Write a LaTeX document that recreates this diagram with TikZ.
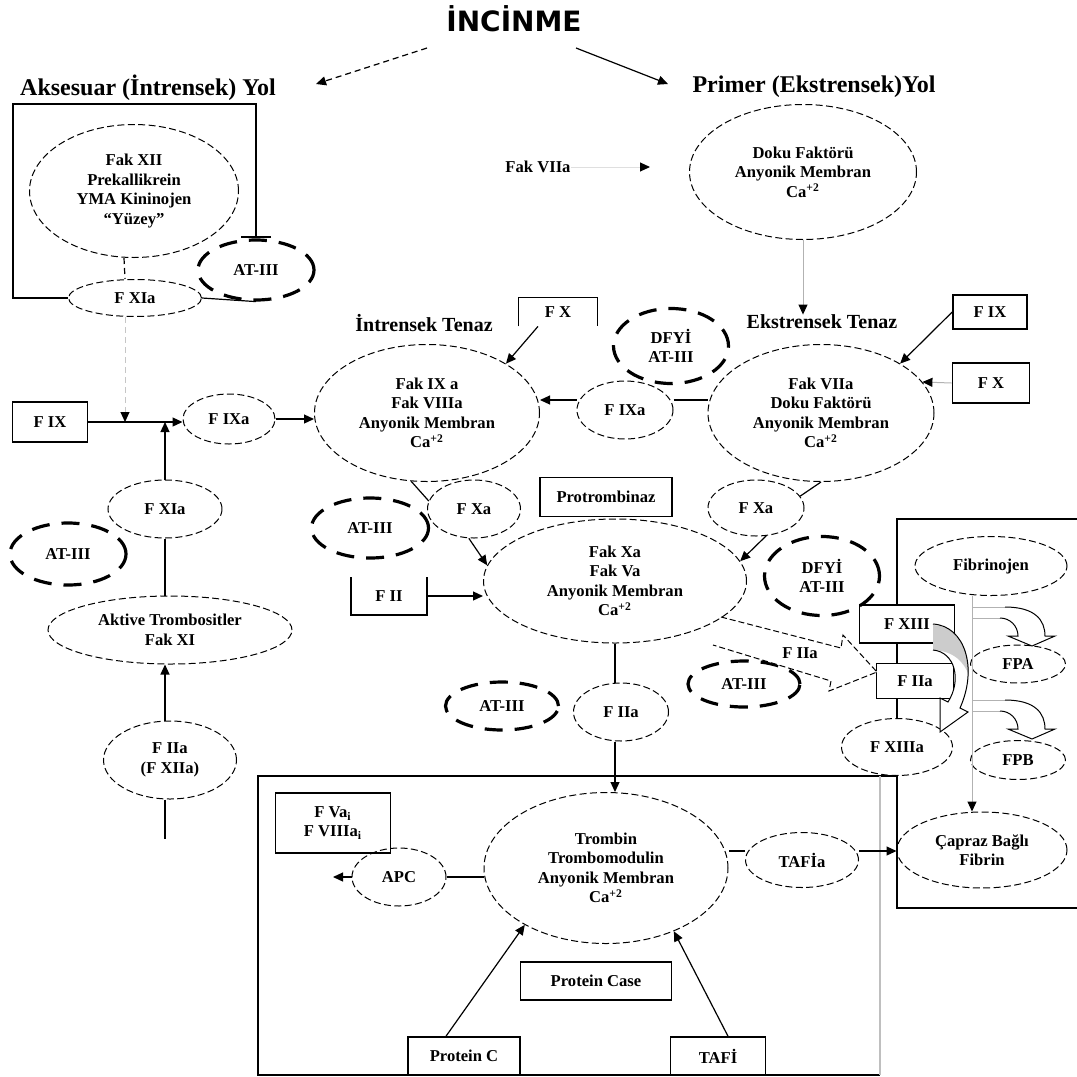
\documentclass[tikz,border=0pt]{standalone}
\usepackage{fontspec}
\setmainfont{Liberation Serif}
\newfontfamily\dvsans{DejaVu Sans}
\usetikzlibrary{arrows.meta,shapes.geometric}
\begin{document}
\begin{tikzpicture}[x=0.5pt,y=-0.5pt,
  every node/.style={font=\bfseries\fontsize{8.3}{9.7}\selectfont, align=center, inner sep=0pt},
  ell/.style 2 args={ellipse, draw, line width=0.5pt, dash pattern=on 3.5pt off 1.7pt, minimum width=#1*0.5pt, minimum height=#2*0.5pt},
  thk/.style 2 args={ellipse, draw, line width=1.6pt, dash pattern=on 9pt off 6pt, minimum width=#1*0.5pt, minimum height=#2*0.5pt},
  bx/.style 2 args={rectangle, draw, line width=0.8pt, minimum width=#1*0.5pt, minimum height=#2*0.5pt},
  obx/.style 2 args={rectangle, minimum width=#1*0.5pt, minimum height=#2*0.5pt},
  con/.style={line width=0.6pt},
  arr/.style={line width=0.6pt, -{Triangle[length=5pt,width=4.5pt]}},
  garr/.style={line width=0.5pt, gray!60, -{Triangle[length=5pt,width=4.5pt,color=black]}},
  hdr/.style={font=\bfseries\fontsize{12}{14}\selectfont},
  ten/.style={font=\bfseries\fontsize{10}{12}\selectfont},
]
\useasboundingbox (0,0) rectangle (1077,1077);

% titles
\node[font=\dvsans\bfseries\fontsize{14}{16}\selectfont] (inc) at (514,19) {İNCİNME};
\node[hdr] (aks) at (148,88) {Aksesuar (İntrensek) Yol};
\node[hdr] (prim) at (814,87) {Primer (Ekstrensek)Yol};
\coordinate (d1) at (427,48); \coordinate (d2) at (316,84);
\draw[arr, dash pattern=on 3pt off 2pt] (d1) -- (d2);
\coordinate (s1) at (576,48); \coordinate (s2) at (668,84);
\draw[arr] (s1) -- (s2);

% left pathway
\node[ell={209}{133}] (f12) at (134,191) {Fak XII\\Prekallikrein\\YMA Kininojen\\“Yüzey”};
\node[ell={133}{37}] (xia1) at (135,298) {F XIa};
\node[thk={116}{60}] (at1) at (256,270) {AT-III};
\draw[con, -{Bar[width=15pt,line width=1.2pt]}] (xia1.west) -| (13,104) -| (at1.north);
\draw[con, dash pattern=on 3pt off 2pt] ([xshift=-5pt]f12.south) -- ([xshift=-5pt]xia1.north);
\draw[con] (xia1.east) -- (at1.south);
\coordinate (j1) at (125,422);
\draw[garr, gray!45, dash pattern=on 3pt off 2pt] ([xshift=-5pt]xia1.south) -- (j1);

\node[bx={75}{40}] (fix1) at (50,422) {F IX};
\node[ell={92}{50}] (fixa1) at (229,419) {F IXa};
\draw[arr] (fix1.east) -- (fix1.east -| fixa1.west);
\node[ell={114}{58}] (xia2) at (165,509) {F XIa};
\draw[arr] (xia2.north) -- (xia2.north |- fix1.east);
\node[thk={116}{62}] (at2) at (68,554) {AT-III};
\node[ell={244}{68}] (akt) at (170,630) {Aktive Trombositler\\Fak XI};
\draw[con] (xia2.south) -- (xia2.south |- akt.north);
\node[ell={133}{78}] (f2a) at (170,760) {F IIa\\(F XIIa)};
\draw[arr] (f2a.north -| xia2.south) -- (akt.south -| xia2.south);
\coordinate (dang) at (165,839);
\draw[con] (f2a.south -| dang) -- (dang);

% tenase
\node[ten] (intt) at (424,323) {İntrensek Tenaz};
\node[ten] (ekst) at (822,322) {Ekstrensek Tenaz};
\node[obx={78}{28}] (fx1) at (558,312) {F X};
\draw[line width=0.8pt] (fx1.south west) -- (fx1.north west) -- (fx1.north east) -- (fx1.south east);
\node[ell={225}{137}] (f9) at (427,413) {Fak IX a\\Fak VIIIa\\Anyonik Membran\\Ca\textsuperscript{+2}};
\draw[arr] ([xshift=-10pt]fx1.south) -- (f9.32);
\draw[arr] (fixa1.east) -- (fixa1.east -| f9.west);
\node[thk={115}{75}] (dfy1) at (671,346) {DFYİ\\AT-III};
\node[ell={96}{58}] (fixa2) at (625,410) {F IXa};
\coordinate (p1) at ([yshift=5pt]fixa2.west);
\coordinate (p2) at ([yshift=5pt]fixa2.east);
\draw[arr] (p1) -- (p1 -| f9.east);
\node[ell={226}{137}] (f7) at (821,413) {Fak VIIa\\Doku Faktörü\\Anyonik Membran\\Ca\textsuperscript{+2}};
\draw[con] (p2) -- (p2 -| f7.west);
\node[ell={227}{135}] (doku) at (803,172) {Doku Faktörü\\Anyonik Membran\\Ca\textsuperscript{+2}};
\draw[garr] (doku.south) -- (doku.south |- ekst.north);
\node (f7t) at (538,167) {Fak VIIa};
\coordinate (f7tip) at (650,167);
\draw[garr, gray!25] (f7t.east) -- (f7tip);
\node[bx={74}{34}] (fix2) at (990,312) {F IX};
\draw[arr] (fix2.west) -- (f7.32);
\node[bx={77}{40}] (fx2) at (991,383) {F X};
\draw[garr] (fx2.west) -- (f7.17);

% prothrombinase
\node[ell={93}{58}] (xa1) at (474,509) {F Xa};
\draw[con] (f9.257) -- (xa1.170);
\node[thk={117}{60}] (at3) at (370,528) {AT-III};
\node[obx={75}{37}] (fii) at (389,596) {F II};
\draw[line width=0.8pt] (fii.north west) -- (fii.south west) -- (fii.south east) -- (fii.north east);
\node[ell={263}{124}] (fxa) at (615,581) {Fak Xa\\Fak Va\\Anyonik Membran\\Ca\textsuperscript{+2}};
\node[bx={132}{39}, fill=white] (prot) at (606,497) {Protrombinaz};
\draw[arr] (xa1.260) -- (fxa.173);
\draw[arr] (fii.east) -- (fii.east -| fxa.west);
\node[ell={96}{56}] (xa2) at (756,508) {F Xa};
\draw[con] (f7.south) -- (xa2.15);
\draw[arr] (xa2.290) -- (fxa.9);
\node[thk={115}{79}] (dfy2) at (822,576) {DFYİ\\AT-III};

% right: fibrin formation
\coordinate (rtop) at (1090,519);
\node[bx={95}{38}] (fxiii) at (907,624) {F XIII};
\node[bx={77}{35}] (f2b) at (915,681) {F IIa};
\node[ell={111}{57}] (fxiiia) at (897,747) {F XIIIa};
\draw[con] (rtop) -| (fxiii.north -| fxiiia.north);
\draw[con] (fxiii.south -| fxiiia.north) -- (f2b.north -| fxiiia.north);
\draw[con] (f2b.south -| fxiiia.north) -- (fxiiia.north);
\coordinate (rbot) at (1090,908);
\draw[con] (fxiiia.south) |- (rbot);

\node[ell={152}{59}] (fib) at (991,566) {Fibrinojen};
\node[ell={95}{38}] (fpa) at (1018,664) {FPA};
\node[ell={95}{39}] (fpb) at (1018,760) {FPB};
\node[ell={170}{76}] (cap) at (982,850) {Çapraz Bağlı\\Fibrin};
\coordinate (gl) at (972,596);
\draw[garr] (gl) -- (gl |- cap.north);
\foreach \dy in {0,93}{
  \begin{scope}[shift={(0,\dy)}]
  \draw[gray!60, line width=0.5pt] (972,607) -- (1005,607) (972,618) -- (1000,618);
  \draw[line width=0.5pt] (1005,607) .. controls (1035,607) and (1045,620) .. (1045,636) -- (1055,636) -- (1032,646) -- (1008,636) -- (1018,636) .. controls (1018,626) and (1010,618) .. (1000,618);
  \end{scope}
}

% curved block arrow F XIII -> F XIIIa
\fill[white] (933,624) .. controls (965,626) and (978,668) .. (960,708) -- (968,712) -- (940,732) -- (940,698) -- (948,702) .. controls (962,680) and (955,652) .. (933,650) -- cycle;
\fill[gray!40] (933,625) .. controls (958,626) and (969,650) .. (969,675) .. controls (964,663) and (955,651) .. (933,650) -- cycle;
\draw[line width=0.5pt] (933,624) .. controls (965,626) and (978,668) .. (960,708) -- (968,712) -- (940,732) -- (940,698) -- (948,702) .. controls (962,680) and (955,652) .. (933,650);

% block arrow F IIa
\node[thk={112}{46}] (at5) at (744,684) {AT-III};
\draw[line width=0.5pt, dash pattern=on 3pt off 1.5pt, fill=white] (721,617) -- (841,648) -- (843,635) -- (877,672) -- (829,691) -- (831,681) -- (713,645);
\node (fiialab) at (800,653) {F IIa};

% thrombin
\node[thk={113}{48}] (at4) at (502,706) {AT-III};
\node[ell={95}{58}] (f2c) at (621,712) {F IIa};
\draw[con] (fxa.south) -- (fxa.south |- f2c.north);
\node[ell={244}{151}] (trom) at (606,868) {Trombin\\Trombomodulin\\Anyonik Membran\\Ca\textsuperscript{+2}};
\draw[arr] (f2c.south -| fxa.south) -- (trom.north -| fxa.south);

\coordinate (b1) at (258,776); \coordinate (b3) at (880,1075); \coordinate (b4) at (258,1075);
\draw[con] (fxiiia.south) -- (fxiiia.south -| b1) -- (b4) -- (b3);
\draw[gray!50, line width=0.6pt] (b3) -- (b3 |- fxiiia.south);

\node[ell={113}{55}] (tafia) at (802,860) {TAFİa};
\coordinate (ta1) at ([yshift=4.5pt]tafia.east);
\coordinate (ta2) at ([yshift=4.5pt]tafia.west);
\draw[arr] (ta1) -- (ta1 -| cap.west);
\draw[con] (ta2) -- (ta2 -| trom.east);
\node[bx={115}{60}] (fva) at (333,823) {F Va\textsubscript{i}\\F VIIIa\textsubscript{i}};
\node[ell={94}{58}] (apc) at (399,877) {APC};
\coordinate (apcend) at (333,877);
\draw[arr] (apc.west) -- (apcend);
\draw[con] (apc.east) -- (apc.east -| trom.west);
\node[bx={151}{38}] (pcase) at (596,981) {Protein Case};
\node[bx={112}{38}] (protc) at (464,1056) {Protein C};
\node[bx={95}{38}] (tafi) at (718,1056) {TAFİ};
\draw[arr] ([xshift=-9pt]protc.north) -- (trom.215);
\draw[arr] ([xshift=5pt]tafi.north) -- (trom.317);
\end{tikzpicture}
\end{document}
